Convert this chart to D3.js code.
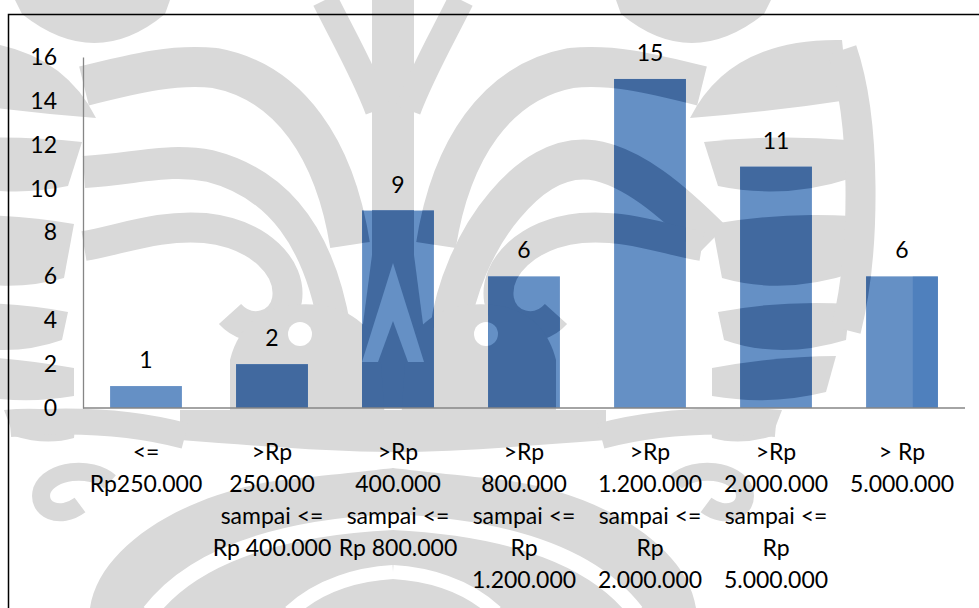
<!DOCTYPE html>
<html>
<head>
<meta charset="utf-8">
<script src="https://cdn.jsdelivr.net/npm/d3@7"></script>
<style>
  html, body { margin: 0; padding: 0; background: #fff; }
  svg { display: block; font-family: Lato, Carlito, "Open Sans", sans-serif; }
</style>
</head>
<body>
<svg id="chart" width="979" height="608"></svg>
<script>
// Respondents per monthly income bracket
const categories = [
  ["<=", "Rp250.000"],
  [">Rp", "250.000", "sampai <=", "Rp 400.000"],
  [">Rp", "400.000", "sampai <=", "Rp 800.000"],
  [">Rp", "800.000", "sampai <=", "Rp", "1.200.000"],
  [">Rp", "1.200.000", "sampai <=", "Rp", "2.000.000"],
  [">Rp", "2.000.000", "sampai <=", "Rp", "5.000.000"],
  ["> Rp", "5.000.000"]
];
const counts = [1, 2, 9, 6, 15, 11, 6];
const yTicks = [0, 2, 4, 6, 8, 10, 12, 14, 16];

const svg = d3.select("#chart");
const plot = { left: 83, right: 965, top: 57, bottom: 408 };
const FONT = 23;

// ---- faint background emblem ----
// Shapes marked mirror:true are repeated reflected about emblemAxis.
// kind: "fg" = emblem body, "cut" = gap inside the body, "inner" = body drawn over a gap
const emblemAxis = 393;
const emblemShapes = [
  // top crescent
  { kind: "fg", mirror: true, fill: "M15,0 L170,0 L165,14 Q95,72 22,14 Z" },
  // upper arcs sweeping into the stem
  { kind: "fg", mirror: true, stroke: "M84,86 C140,72 175,64 215,68 C290,82 335,150 350,245", w: 40 },
  { kind: "fg", mirror: false, stroke: "M84,172 C140,168 170,158 210,166 C280,184 320,240 335,330", w: 32 },
  { kind: "fg", mirror: false, stroke: "M450,330 C455,290 475,240 505,205 C530,175 560,156 592,160 C632,166 672,200 712,240", w: 40 },
  { kind: "fg", mirror: true, stroke: "M84,246 C120,240 160,224 205,228 C260,234 292,268 287,300 C282,326 250,336 230,314", w: 30 },
  // stem and branches
  { kind: "fg", mirror: true, stroke: "M393,-10 L393,263", w: 42 },
  { kind: "fg", mirror: true, stroke: "M378,110 C365,75 345,40 325,0", w: 26 },
  { kind: "fg", mirror: true, fill: "M372,255 L352,408 L393,408 L393,255 Z" },
  // stacked crescents of the side spiral
  { kind: "fg", mirror: true, fill: "M690,118 Q730,38 842,40 L848,100 Q770,112 690,118 Z" },
  { kind: "fg", mirror: true, fill: "M704,142 Q775,134 848,140 L852,178 Q785,200 718,186 Z" },
  { kind: "fg", mirror: true, fill: "M712,224 Q780,212 852,216 L856,272 Q785,296 722,278 Z" },
  { kind: "fg", mirror: true, fill: "M718,312 Q780,300 850,304 L846,340 Q780,360 724,340 Z" },
  { kind: "fg", mirror: true, fill: "M712,368 Q780,356 836,356 L826,392 Q770,406 712,396 Z" },
  { kind: "fg", mirror: true, fill: "M710,414 Q745,406 782,410 L772,436 Q740,446 712,438 Z" },
  { kind: "fg", mirror: true, stroke: "M842,50 C866,120 866,250 846,330", w: 30 },
  // lower body
  { kind: "fg", mirror: true, fill: "M230,360 C240,320 270,300 320,305 C355,310 372,330 380,350 L385,420 L230,420 Z" },
  { kind: "fg", mirror: true, fill: "M180,410 L393,410 L393,452 C330,452 260,446 180,440 Z" },
  { kind: "fg", mirror: true, stroke: "M10,424 C80,418 140,424 185,436", w: 26 },
  { kind: "fg", mirror: true, stroke: "M110,482 C90,465 50,470 42,490 C36,510 60,520 80,505", w: 18 },
  { kind: "fg", mirror: true, fill: "M90,608 C100,540 200,486 300,478 C360,472 393,468 393,468 L393,608 Z" },
  // gaps
  { kind: "cut", mirror: true, fill: "M393,263 L362,362 L393,362 Z" },
  { kind: "cut", mirror: true, circle: [300, 334, 12] },
  { kind: "cut", mirror: true, stroke: "M150,612 C190,560 270,528 393,522", w: 16 },
  { kind: "cut", mirror: true, stroke: "M290,612 C320,584 360,574 393,572", w: 14 },
  { kind: "inner", mirror: true, fill: "M393,321 L378,362 L393,362 Z" }
];

function drawEmblem(g, fg, bg) {
  const flip = `translate(${2 * emblemAxis},0) scale(-1,1)`;
  ["fg", "cut", "inner"].forEach(kind => {
    const layer = g.append("g");
    emblemShapes.filter(s => s.kind === kind).forEach(s => {
      const col = kind === "cut" ? bg : fg;
      (s.mirror ? [null, flip] : [null]).forEach(t => {
        let el;
        if (s.fill) el = layer.append("path").attr("d", s.fill).attr("fill", col);
        else if (s.circle) el = layer.append("circle").attr("cx", s.circle[0])
          .attr("cy", s.circle[1]).attr("r", s.circle[2]).attr("fill", col);
        else el = layer.append("path").attr("d", s.stroke).attr("fill", "none")
          .attr("stroke", col).attr("stroke-width", s.w);
        el.attr("transform", t);
      });
    });
  });
}

drawEmblem(svg.append("g"), "#d9d9d9", "#ffffff");

// outer frame (runs off the right and bottom edges)
svg.append("path")
  .attr("d", "M8.5,610 V14.5 H990")
  .attr("fill", "none").attr("stroke", "#000").attr("stroke-width", 1.5);

const x = d3.scaleBand()
  .domain(d3.range(categories.length))
  .range([plot.left, plot.right])
  .paddingInner(0.43).paddingOuter(0.215);

const y = d3.scaleLinear().domain([0, 16]).range([plot.bottom, plot.top]);

// bars
const barLight = "#6590c5", barDark = "#41699f", barBase = "#4f80bd";
const defs = svg.append("defs");
const clip = defs.append("clipPath").attr("id", "barClip");
[svg.append("g"), clip].forEach(sel => {
  sel.selectAll("rect")
    .data(counts)
    .join("rect")
    .attr("x", (d, i) => x(i))
    .attr("y", d => y(d))
    .attr("width", x.bandwidth())
    .attr("height", d => y(0) - y(d))
    .attr("fill", barLight);
});
// emblem shading seen through the bars
const shade = svg.append("g").attr("clip-path", "url(#barClip)");
drawEmblem(shade, barDark, barLight);
// the last bar keeps its plain fill along its right edge
const last = counts.length - 1;
shade.append("rect")
  .attr("x", x(last) + x.bandwidth() * 0.65)
  .attr("y", y(counts[last]))
  .attr("width", x.bandwidth() * 0.35)
  .attr("height", y(0) - y(counts[last]))
  .attr("fill", barBase);

// value labels
svg.append("g").selectAll("text")
  .data(counts)
  .join("text")
  .attr("x", (d, i) => x(i) + x.bandwidth() / 2)
  .attr("y", d => y(d) - 18)
  .attr("text-anchor", "middle")
  .attr("font-size", FONT)
  .attr("fill", "#000")
  .text(d => d);

// y axis
const yAxis = svg.append("g")
  .attr("transform", `translate(${plot.left},0)`)
  .call(d3.axisLeft(y).tickValues(yTicks).tickSize(0).tickPadding(26));
yAxis.select(".domain").attr("stroke", "#868686").attr("stroke-width", 1.3);
yAxis.selectAll("text").attr("font-size", FONT).attr("fill", "#000")
  .attr("font-family", "Lato, Carlito, 'Open Sans', sans-serif");

// x axis baseline
svg.append("line")
  .attr("x1", plot.left).attr("x2", plot.right)
  .attr("y1", plot.bottom).attr("y2", plot.bottom)
  .attr("stroke", "#868686").attr("stroke-width", 1.3);

// category labels, wrapped onto several lines
const catG = svg.append("g").selectAll("text")
  .data(categories)
  .join("text")
  .attr("text-anchor", "middle")
  .attr("font-size", FONT)
  .attr("fill", "#000");
catG.selectAll("tspan")
  .data((lines, i) => lines.map(t => ({ t, i })))
  .join("tspan")
  .attr("x", d => x(d.i) + x.bandwidth() / 2)
  .attr("y", (d, j) => 460 + j * 32)
  .text(d => d.t);
</script>
</body>
</html>
